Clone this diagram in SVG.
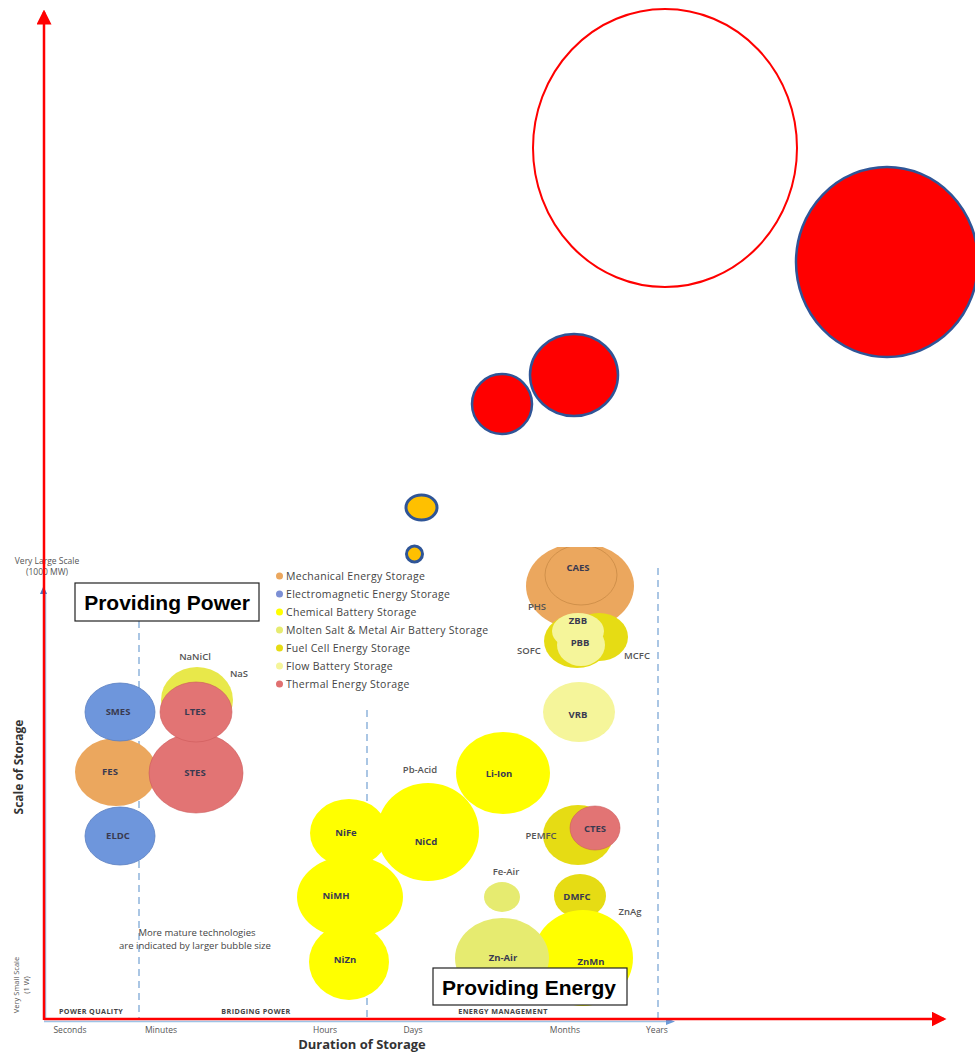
<svg xmlns="http://www.w3.org/2000/svg" width="975" height="1054" viewBox="0 0 975 1054">
<defs>
<style>
.lbl{font-family:"Open Sans","Liberation Sans",sans-serif;font-size:9.5px;font-weight:bold;fill:#3a3a50;text-anchor:middle}
.side{font-family:"Open Sans","Liberation Sans",sans-serif;font-size:9.5px;font-weight:600;fill:#555;text-anchor:middle}
.leg{font-family:"Open Sans","Liberation Sans",sans-serif;font-size:10.5px;letter-spacing:0.3px;fill:#444}
.tick{font-family:"Open Sans","Liberation Sans",sans-serif;font-size:8.5px;fill:#555;text-anchor:middle}
.zone{font-family:"Open Sans","Liberation Sans",sans-serif;font-size:7.2px;letter-spacing:0.4px;font-weight:bold;fill:#444;text-anchor:middle}
.title{font-family:"Open Sans","Liberation Sans",sans-serif;font-weight:bold;fill:#333;text-anchor:middle}
.box{fill:#fff;stroke:#222;stroke-width:1.2}
.boxt{font-family:"Liberation Sans",Arial,sans-serif;font-weight:bold;fill:#000;text-anchor:middle}
.dash{stroke:#8fb4dc;stroke-width:1.5;stroke-dasharray:7 5;fill:none}
.mech{fill:#eba75e}
.elec{fill:#6e96dc;stroke:#5b7fc0;stroke-width:0.8}
.chem{fill:#ffff00}
.molt{fill:#e6eb70}
.fuel{fill:#e6dc14}
.flow{fill:#f5f59a}
.therm{fill:#e27474;stroke:#cc5a5a;stroke-width:0.6}
.red{fill:#ff0000;stroke:#2f5597;stroke-width:2.5}
.org{fill:#ffc000;stroke:#2f5597;stroke-width:3}
</style>
<clipPath id="chartclip"><rect x="0" y="547" width="680" height="507"/></clipPath>
<marker id="redarrow" markerWidth="6" markerHeight="6" refX="5" refY="3" orient="auto" markerUnits="strokeWidth"><path d="M0,0 L6,3 L0,6 Z" fill="#ff0000"/></marker>
</defs>
<rect width="975" height="1054" fill="#fff"/>

<!-- top bubbles -->
<g id="big-white"><ellipse cx="665" cy="148" rx="132" ry="139" fill="#fff" stroke="#ff0000" stroke-width="2"/></g>
<g id="big-red"><ellipse cx="887" cy="262" rx="91" ry="95" class="red"/></g>
<g id="red-mid"><ellipse cx="574" cy="375" rx="44" ry="41" class="red"/></g>
<g id="red-small"><ellipse cx="502" cy="404" rx="30" ry="30" class="red"/></g>
<g id="orange-1"><ellipse cx="421.5" cy="507.5" rx="15.5" ry="12.5" class="org"/></g>
<g id="orange-2"><circle cx="414.5" cy="554" r="8" class="org"/></g>

<!-- chart -->
<g id="chart" clip-path="url(#chartclip)">
<g id="gridlines">
<line x1="139" y1="585" x2="139" y2="1020" class="dash"/>
<line x1="367" y1="710" x2="367" y2="1020" class="dash"/>
<line x1="658" y1="568" x2="658" y2="1020" class="dash"/>
<line x1="45.5" y1="592" x2="45.5" y2="1020" stroke="#9dc3e6" stroke-width="1.5"/>
<path d="M40,594 L43.5,586 L47,594 Z" fill="#4a78c0"/>
<line x1="44" y1="1021.5" x2="668" y2="1021.5" stroke="#9dc3e6" stroke-width="1.5"/>
<path d="M666,1018 L675,1021.5 L666,1025 Z" fill="#6a9ad8"/>
</g>

<text x="47" y="564" class="tick" style="font-size:8.5px">Very Large Scale</text>
<text x="47" y="575" class="tick" style="font-size:8.5px">(1000 MW)</text>

<g id="legend">
<circle cx="279.5" cy="576" r="3.5" class="mech"/><text x="286" y="579.5" class="leg">Mechanical Energy Storage</text>
<circle cx="279.5" cy="594" r="3.5" fill="#7c8fd4"/><text x="286" y="597.5" class="leg">Electromagnetic Energy Storage</text>
<circle cx="279.5" cy="612" r="3.5" class="chem"/><text x="286" y="615.5" class="leg">Chemical Battery Storage</text>
<circle cx="279.5" cy="630" r="3.5" class="molt"/><text x="286" y="633.5" class="leg">Molten Salt &amp; Metal Air Battery Storage</text>
<circle cx="279.5" cy="648" r="3.5" class="fuel"/><text x="286" y="651.5" class="leg">Fuel Cell Energy Storage</text>
<circle cx="279.5" cy="666" r="3.5" class="flow"/><text x="286" y="669.5" class="leg">Flow Battery Storage</text>
<circle cx="279.5" cy="684" r="3.5" fill="#e07070"/><text x="286" y="687.5" class="leg">Thermal Energy Storage</text>
</g>

<!-- left cluster -->
<g id="node-NaNiCl-NaS"><ellipse cx="197" cy="700" rx="36" ry="33" fill="#e8e84a"/></g>
<g id="node-FES"><ellipse cx="116" cy="772" rx="41" ry="34" class="mech"/><text x="110" y="775" class="lbl">FES</text></g>
<g id="node-SMES"><ellipse cx="120" cy="712" rx="35" ry="29" class="elec"/><text x="118" y="715" class="lbl">SMES</text></g>
<g id="node-ELDC"><ellipse cx="120" cy="836" rx="35" ry="29" class="elec"/><text x="118" y="839" class="lbl">ELDC</text></g>
<g id="node-STES"><ellipse cx="196" cy="773" rx="47" ry="40" class="therm"/><text x="195" y="776" class="lbl">STES</text></g>
<g id="node-LTES"><ellipse cx="196" cy="712" rx="36" ry="30" class="therm"/><text x="195" y="715" class="lbl">LTES</text></g>
<text x="195" y="660" class="side">NaNiCl</text>
<text x="239" y="677" class="side">NaS</text>

<!-- right top cluster -->
<g id="node-PHS-CAES"><ellipse cx="580" cy="586" rx="54" ry="43" class="mech"/><ellipse cx="581" cy="575" rx="36" ry="30" fill="none" stroke="#c98a45" stroke-width="0.8"/><text x="578" y="571" class="lbl">CAES</text></g>
<text x="537" y="610" class="side">PHS</text>
<g id="node-MCFC"><ellipse cx="599" cy="637" rx="29" ry="24" class="fuel"/></g>
<g id="node-SOFC"><ellipse cx="577" cy="641" rx="33" ry="27" class="fuel"/></g>
<g id="node-ZBB"><ellipse cx="578" cy="631" rx="26" ry="18" class="flow"/><text x="578" y="624" class="lbl">ZBB</text></g>
<g id="node-PBB"><ellipse cx="581" cy="645" rx="24" ry="21" class="flow"/><text x="580" y="646" class="lbl">PBB</text></g>
<text x="529" y="654" class="side">SOFC</text>
<text x="637" y="659" class="side">MCFC</text>
<g id="node-VRB"><ellipse cx="579" cy="712" rx="36" ry="30" class="flow"/><text x="578" y="718" class="lbl">VRB</text></g>

<!-- middle cluster -->
<g id="node-LiIon"><ellipse cx="503" cy="773" rx="47" ry="41" class="chem"/><text x="499" y="777" class="lbl">Li-Ion</text></g>
<text x="420" y="773" class="side">Pb-Acid</text>
<g id="node-NiCd"><ellipse cx="428" cy="832" rx="51" ry="49" class="chem"/><text x="426" y="845" class="lbl">NiCd</text></g>
<g id="node-NiFe"><ellipse cx="349" cy="833" rx="39" ry="34" class="chem"/><text x="346" y="836" class="lbl">NiFe</text></g>
<g id="node-NiMH"><ellipse cx="350" cy="897" rx="53" ry="41" class="chem"/><text x="336" y="899" class="lbl">NiMH</text></g>
<g id="node-NiZn"><ellipse cx="349" cy="962" rx="40" ry="38" class="chem"/><text x="345" y="963" class="lbl">NiZn</text></g>
<g id="node-PEMFC"><ellipse cx="578" cy="835" rx="35" ry="30" class="fuel"/></g>
<g id="node-CTES"><ellipse cx="595" cy="828" rx="25" ry="22" class="therm"/><text x="595" y="832" class="lbl">CTES</text></g>
<text x="541" y="839" class="side">PEMFC</text>
<text x="506" y="875" class="side">Fe-Air</text>
<g id="node-FeAir"><ellipse cx="502" cy="897" rx="18" ry="15" class="molt"/></g>
<g id="node-DMFC"><ellipse cx="580" cy="896" rx="26" ry="22" class="fuel"/><text x="577" y="900" class="lbl">DMFC</text></g>
<text x="630" y="915" class="side">ZnAg</text>
<g id="node-ZnMn"><ellipse cx="583" cy="958" rx="50" ry="48" class="chem"/><text x="591" y="965" class="lbl">ZnMn</text></g>
<g id="node-ZnAir"><ellipse cx="502" cy="958" rx="47" ry="40" class="molt"/><text x="503" y="961" class="lbl">Zn-Air</text></g>

<text x="197" y="936" class="tick" style="font-size:9.5px;fill:#444">More mature technologies</text>
<text x="195" y="949" class="tick" style="font-size:9.5px;fill:#444">are indicated by larger bubble size</text>

<text x="91" y="1014" class="zone">POWER QUALITY</text>
<text x="256" y="1014" class="zone">BRIDGING POWER</text>
<text x="503" y="1014" class="zone">ENERGY MANAGEMENT</text>

<text x="70" y="1033" class="tick">Seconds</text>
<text x="161" y="1033" class="tick">Minutes</text>
<text x="325" y="1033" class="tick">Hours</text>
<text x="413" y="1033" class="tick">Days</text>
<text x="565" y="1033" class="tick">Months</text>
<text x="657" y="1033" class="tick">Years</text>
<text x="362" y="1049" class="title" style="font-size:13px">Duration of Storage</text>
<text transform="translate(23,767) rotate(-90)" class="title" style="font-size:12px">Scale of Storage</text>
<text transform="translate(19,985) rotate(-90)" class="tick" style="font-size:7.5px">Very Small Scale</text>
<text transform="translate(29,985) rotate(-90)" class="tick" style="font-size:7.5px">(1 W)</text>
</g>

<g id="box-power"><rect x="75" y="583" width="184" height="38" class="box"/><text x="167" y="610" class="boxt" style="font-size:21px">Providing Power</text></g>
<g id="box-energy"><rect x="433" y="968" width="194" height="37" class="box"/><text x="529" y="995" class="boxt" style="font-size:21px">Providing Energy</text></g>

<g id="connectors">
<line x1="44" y1="1020" x2="44" y2="12" stroke="#ff0000" stroke-width="2.5" marker-end="url(#redarrow)"/>
<line x1="44" y1="1019" x2="944" y2="1019" stroke="#ff0000" stroke-width="2.5" marker-end="url(#redarrow)"/>
</g>
</svg>
